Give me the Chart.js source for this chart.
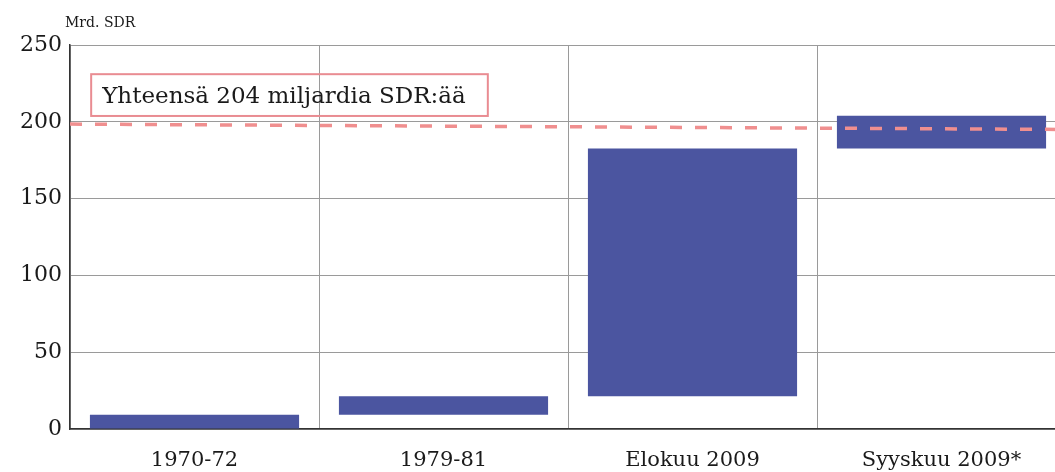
<!DOCTYPE html>
<html>
<head>
<meta charset="utf-8">
<script src="https://cdn.jsdelivr.net/npm/chart.js@4"></script>
<style>
  html, body { margin: 0; padding: 0; background: #fff; overflow: hidden; }
  #wrap { position: relative; width: 1068px; height: 472px; }
</style>
</head>
<body>
<div id="wrap"><canvas id="sdrChart"></canvas></div>
<script>
// allokaatiot, mrd. SDR (kumulatiivinen)
const categories = ['1970-72', '1979-81', 'Elokuu 2009', 'Syyskuu 2009*'];
const barStart = [0, 9.3, 21.4, 182.6];
const barEnd = [9.3, 21.4, 182.6, 204];
const totalLine = [198.5, 195];   // katkoviiva vasen/oikea reuna
const yTicks = [0, 50, 100, 150, 200, 250];
const totalLabel = 'Yhteensä 204 miljardia SDR:ää';
const unitLabel = 'Mrd. SDR';

const serif = '"DejaVu Serif", "Liberation Serif", serif';

// laatikko + teksti
const labelBox = {
    id: 'labelBox',
    afterDraw(chart) {
        const ctx = chart.ctx;
        const x2 = chart.scales.x2, y = chart.scales.y;
        const left = x2.getPixelForValue(-0.415);
        const right = x2.getPixelForValue(1.178);
        const top = y.getPixelForValue(231);
        const bottom = y.getPixelForValue(203.8);
        ctx.save();
        ctx.strokeStyle = '#e98c92';
        ctx.lineWidth = 2;
        ctx.strokeRect(left, top, right - left, bottom - top);
        ctx.fillStyle = '#1a1a1a';
        ctx.font = '23px ' + serif;
        ctx.textBaseline = 'middle';
        ctx.fillText(totalLabel, left + 11, (top + bottom) / 2 + 2);
        ctx.font = '14px ' + serif;
        ctx.textBaseline = 'alphabetic';
        ctx.fillText(unitLabel, 65, 27);
        ctx.restore();
    }
};

new Chart(document.getElementById('sdrChart'), {
    type: 'bar',
    data: {
        labels: categories,
        datasets: [{
            label: 'SDR',
            data: barStart.map((s, i) => [s, barEnd[i]]),
            backgroundColor: '#4b55a0',
            borderSkipped: false,
            grouped: false,
            barPercentage: 0.84,
            categoryPercentage: 1,
            order: 1
        }, {
            type: 'line',
            label: 'Yhteensä',
            xAxisID: 'x2',
            data: [{ x: -0.5, y: totalLine[0] }, { x: 3.5, y: totalLine[1] }],
            borderColor: '#f08f8f',
            borderWidth: 3.5,
            borderDash: [12, 13],
            pointRadius: 0,
            fill: false,
            order: 0
        }]
    },
    options: {
        responsive: true,
        maintainAspectRatio: false,
        animation: false,
        layout: { padding: { top: 45, right: 2, left: 0, bottom: 0 } },
        plugins: { legend: { display: false }, tooltip: { enabled: false } },
        scales: {
            x: {
                grid: { color: '#9a9a9a', lineWidth: 1, drawTicks: false, offset: true },
                border: { color: '#333', width: 1.5 },
                ticks: { color: '#1a1a1a', font: { family: serif, size: 21 }, padding: 19 },
                afterFit: s => { s.height = 43; }
            },
            x2: {
                type: 'linear',
                display: false,
                offset: false,
                min: -0.5,
                max: 3.5
            },
            y: {
                min: 0,
                max: 250,
                afterBuildTicks: s => { s.ticks = yTicks.map(v => ({ value: v })); },
                grid: { color: '#9a9a9a', lineWidth: 1, drawTicks: false },
                border: { color: '#333', width: 1.5 },
                ticks: { color: '#1a1a1a', font: { family: serif, size: 22 }, padding: 8 },
                afterFit: s => { s.width = 70; }
            }
        }
    },
    plugins: [labelBox]
});
</script>
</body>
</html>
